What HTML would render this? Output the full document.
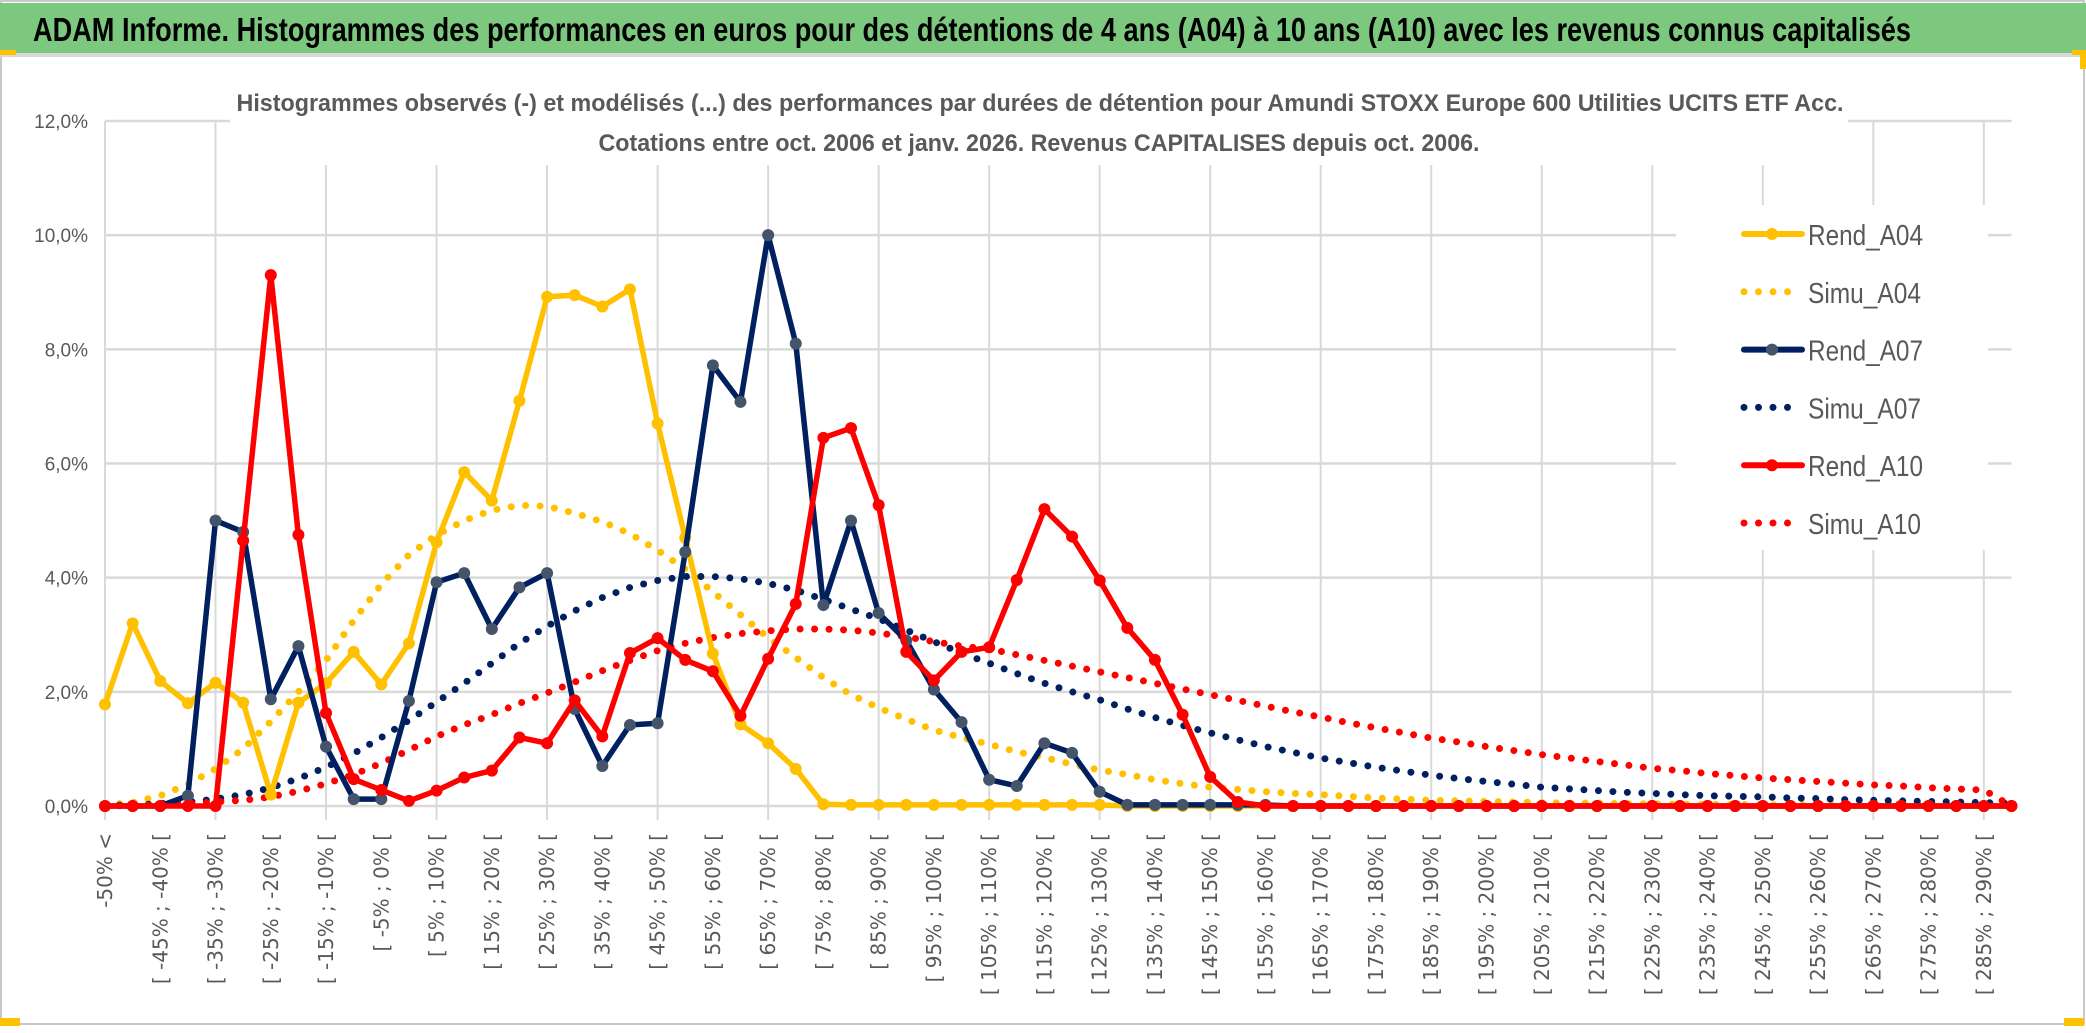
<!DOCTYPE html>
<html><head><meta charset="utf-8">
<style>
html,body{margin:0;padding:0;background:#fff;}
svg{display:block;}
text{font-family:"Liberation Sans",sans-serif;}
text.xl{font-family:"DejaVu Sans",sans-serif;}
</style></head>
<body>
<svg id="chart" width="2086" height="1033" viewBox="0 0 2086 1033" xmlns="http://www.w3.org/2000/svg">
  <rect x="0" y="0" width="2086" height="1033" fill="#fff"/>
  <rect x="1" y="1" width="2083" height="1023" fill="none" stroke="#c8c8c8" stroke-width="2"/>
  <rect x="0" y="3" width="2086" height="50" fill="#7dc87f"/>
  <rect x="0" y="53" width="2086" height="4" fill="#d9d9d9"/>
  <rect x="0" y="50" width="16" height="5" fill="#ffc000"/>
  <rect x="2072" y="50" width="14" height="5" fill="#ffc000"/>
  <rect x="2080" y="55" width="6" height="14" fill="#ffc000"/>
  <rect x="0" y="1018" width="20" height="8" fill="#ffc000"/>
  <rect x="2064" y="1018" width="20" height="8" fill="#ffc000"/>
  <text x="33" y="41" font-size="33" font-weight="bold" fill="#000" textLength="1878" lengthAdjust="spacingAndGlyphs">ADAM Informe. Histogrammes des performances en euros pour des détentions de 4 ans (A04) à 10 ans (A10) avec les revenus connus capitalisés</text>
  <g id="grid"></g>
  <rect x="230" y="72" width="1618" height="93" fill="#fff"/>
  <text x="1040" y="111" font-size="24" font-weight="bold" fill="#595959" text-anchor="middle" textLength="1607" lengthAdjust="spacingAndGlyphs">Histogrammes observés (-) et modélisés (...) des performances par durées de détention pour Amundi STOXX Europe 600 Utilities UCITS ETF Acc.</text>
  <text x="1039" y="151" font-size="24" font-weight="bold" fill="#595959" text-anchor="middle" textLength="881" lengthAdjust="spacingAndGlyphs">Cotations entre oct. 2006 et janv. 2026. Revenus CAPITALISES depuis oct. 2006.</text>
  <g id="yaxis"></g>
  <g id="xaxis"></g>
  <g id="series"></g>
  <rect x="1676" y="205" width="312" height="345" fill="#fff"/>
  <g id="legend"></g>
</svg>
<script>
const yTicks = [0, 2, 4, 6, 8, 10, 12];
const rendA04 = [1.78,3.2,2.19,1.8,2.16,1.81,0.2,1.81,2.15,2.7,2.13,2.85,4.62,5.85,5.35,7.1,8.92,8.95,8.75,9.05,6.7,4.7,2.67,1.43,1.1,0.65,0.03,0.02,0.02,0.02,0.02,0.02,0.02,0.02,0.02,0.02,0.02,0,0,0,0,0,0,0,0,0,0,0,0,0,0,0,0,0,0,0,0,0,0,0,0,0,0,0,0,0,0,0,0,0];
const simuA04 = [0.02,0.06,0.18,0.38,0.65,1.0,1.48,2.0,2.55,3.25,3.88,4.4,4.75,5.0,5.18,5.27,5.25,5.13,4.98,4.77,4.48,4.15,3.75,3.35,2.95,2.6,2.25,1.95,1.72,1.52,1.33,1.2,1.08,0.95,0.85,0.73,0.63,0.55,0.46,0.39,0.33,0.29,0.25,0.22,0.2,0.17,0.14,0.12,0.1,0.09,0.08,0.07,0.06,0.05,0.05,0.04,0.04,0.03,0.03,0.03,0.02,0.02,0.02,0.02,0.01,0.01,0.01,0.01,0.01,0.01];
const rendA07 = [0,0,0,0.18,5.0,4.8,1.87,2.8,1.04,0.12,0.12,1.84,3.92,4.08,3.1,3.83,4.08,1.7,0.7,1.42,1.45,4.45,7.72,7.08,10.0,8.1,3.52,5.0,3.38,2.9,2.04,1.47,0.46,0.35,1.1,0.93,0.25,0.02,0.02,0.02,0.02,0.02,0.02,0,0,0,0,0,0,0,0,0,0,0,0,0,0,0,0,0,0,0,0,0,0,0,0,0,0,0];
const simuA07 = [0.01,0.02,0.04,0.07,0.12,0.2,0.32,0.48,0.68,0.92,1.2,1.5,1.82,2.15,2.5,2.85,3.15,3.42,3.65,3.83,3.95,4.02,4.02,3.98,3.9,3.78,3.62,3.45,3.28,3.08,2.88,2.68,2.5,2.32,2.15,2.0,1.86,1.7,1.55,1.41,1.28,1.16,1.04,0.94,0.84,0.76,0.68,0.61,0.54,0.48,0.43,0.38,0.33,0.3,0.27,0.24,0.22,0.2,0.18,0.17,0.16,0.14,0.13,0.11,0.1,0.09,0.08,0.07,0.06,0.05];
const rendA10 = [0,0,0,0,0,4.65,9.3,4.75,1.63,0.47,0.28,0.09,0.27,0.5,0.62,1.2,1.1,1.85,1.22,2.68,2.94,2.56,2.36,1.58,2.58,3.54,6.45,6.62,5.27,2.7,2.2,2.7,2.78,3.96,5.2,4.72,3.95,3.12,2.56,1.6,0.51,0.07,0,0,0,0,0,0,0,0,0,0,0,0,0,0,0,0,0,0,0,0,0,0,0,0,0,0,0,0];
const simuA10 = [0,0.01,0.02,0.04,0.07,0.1,0.16,0.26,0.39,0.55,0.75,0.98,1.22,1.42,1.6,1.8,1.98,2.17,2.37,2.55,2.72,2.85,2.95,3.02,3.07,3.1,3.1,3.08,3.03,2.96,2.88,2.8,2.75,2.65,2.55,2.45,2.35,2.25,2.15,2.05,1.95,1.85,1.75,1.65,1.56,1.46,1.37,1.28,1.19,1.12,1.04,0.97,0.9,0.84,0.78,0.72,0.66,0.62,0.57,0.53,0.49,0.46,0.43,0.4,0.37,0.35,0.32,0.3,0.28,0];
const seriesNames = ["Rend_A04","Simu_A04","Rend_A07","Simu_A07","Rend_A10","Simu_A10"];

const NS = "http://www.w3.org/2000/svg";
const N = rendA04.length;
const X0 = 105, STEP = 27.63, Y0 = 806, YTOP = 121;
function xs(i){ return X0 + i*STEP; }
function ys(v){ return Y0 - (v/12)*(Y0-YTOP); }
function catLabel(i){
  if(i===0) return "-50% <";
  const a = -55 + 5*i, b = -50 + 5*i;
  return "[ " + a + "% ; " + b + "% [";
}
function mk(tag, attrs, parent){
  const e = document.createElementNS(NS, tag);
  for(const k in attrs) e.setAttribute(k, attrs[k]);
  parent.appendChild(e); return e;
}
const grid = document.getElementById('grid');
const xEnd = xs(N-1);
yTicks.forEach(t=>{
  const l = mk('line',{x1:X0,x2:xEnd,y1:ys(t),y2:ys(t),stroke:'#d9d9d9','stroke-width':2.5},grid);
  
  
});
for(let i=0;i<N;i+=4){
  const l = mk('line',{x1:xs(i),x2:xs(i),y1:YTOP,y2:Y0+14,stroke:'#d9d9d9','stroke-width':2},grid);
  
  
}
const yaxis = document.getElementById('yaxis');
yTicks.forEach(t=>{
  const tx = mk('text',{x:88,y:ys(t)+7,'font-size':19,fill:'#595959','text-anchor':'end'},yaxis);
  tx.textContent = t.toFixed(1).replace('.',',')+'%';
  
  
});
const xaxis = document.getElementById('xaxis');
for(let i=0;i<N;i+=2){
  const x = xs(i)+7, y = 833;
  const tx = mk('text',{x:x,y:y,'font-size':20,fill:'#595959','text-anchor':'end','class':'xl',transform:'rotate(-90 '+x+' '+y+')'},xaxis);
  tx.textContent = catLabel(i);
  
  
}
const sg = document.getElementById('series');
function pts(arr){ return arr.map((v,i)=>xs(i).toFixed(1)+','+ys(v).toFixed(1)).join(' '); }
function dotted(arr,color,name){
  const p = mk('polyline',{points:pts(arr),fill:'none',stroke:color,'stroke-width':7,'stroke-linecap':'round','stroke-dasharray':'0 14.5'},sg);
  
  
}
function solid(arr,color,mcolor,name){
  const g = mk('g',{},sg);
  
  
  mk('polyline',{points:pts(arr),fill:'none',stroke:color,'stroke-width':5.5,'stroke-linejoin':'round'},g);
  arr.forEach((v,i)=>{
    const c = mk('circle',{cx:xs(i),cy:ys(v),r:6,fill:mcolor},g);
    
    
  });
}
dotted(simuA04,'#ffc000','simu-a04-line');
dotted(simuA07,'#002060','simu-a07-line');
dotted(simuA10,'#ff0000','simu-a10-line');
solid(rendA04,'#ffc000','#ffc000','rend-a04-line');
solid(rendA07,'#002060','#44546a','rend-a07-line');
solid(rendA10,'#ff0000','#ff0000','rend-a10-line');

const lg = document.getElementById('legend');
const lcol = ['#ffc000','#ffc000','#002060','#002060','#ff0000','#ff0000'];
const lmark = ['#ffc000',null,'#44546a',null,'#ff0000',null];
seriesNames.forEach((n,k)=>{
  const y = 234 + k*57.8;
  const g = mk('g',{},lg);
  
  
  if(lmark[k]){
    mk('line',{x1:1744,x2:1802,y1:y,y2:y,stroke:lcol[k],'stroke-width':6,'stroke-linecap':'round'},g);
    mk('circle',{cx:1772,cy:y,r:6,fill:lmark[k]},g);
  } else {
    mk('line',{x1:1744,x2:1795,y1:y,y2:y,stroke:lcol[k],'stroke-width':7,'stroke-linecap':'round','stroke-dasharray':'0 14.5'},g);
  }
  const t = mk('text',{x:1808,y:y+11,'font-size':29,fill:'#595959',textLength:(n.indexOf('Rend')===0?115:113),lengthAdjust:'spacingAndGlyphs'},g);
  t.textContent = n;
});
</script>
</body></html>
